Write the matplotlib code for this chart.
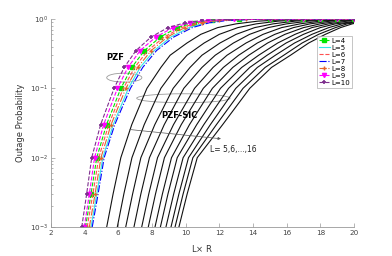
import numpy as np
import matplotlib
matplotlib.use('Agg')
import matplotlib.pyplot as plt
from matplotlib.patches import Ellipse

# PZF-SIC curves, L = 5..16 : x position where each probability level is reached
sic_levels = [1e-3, 3e-3, 1e-2, 3e-2, 1e-1, 0.2, 0.3, 0.45, 0.6, 0.75, 0.85, 0.93, 0.97, 0.99]
sic_x = [
    [5.31, 5.94, 6.44, 6.93, 7.39, 7.78, 8.18, 8.50, 8.83, 9.13, 9.37, 9.60],
    [5.69, 6.33, 6.85, 7.34, 7.81, 8.21, 8.62, 8.95, 9.29, 9.60, 9.85, 10.09],
    [6.15, 6.81, 7.34, 7.85, 8.33, 8.74, 9.16, 9.50, 9.85, 10.17, 10.43, 10.69],
    [6.80, 7.54, 8.17, 8.73, 9.28, 9.74, 10.23, 10.66, 11.08, 11.47, 11.83, 12.20],
    [7.70, 8.53, 9.26, 9.89, 10.53, 11.05, 11.59, 12.07, 12.55, 12.98, 13.41, 13.81],
    [8.53, 9.44, 10.26, 10.97, 11.63, 12.24, 12.80, 13.33, 13.81, 14.26, 14.72, 15.10],
    [9.08, 10.08, 10.97, 11.76, 12.46, 13.15, 13.75, 14.34, 14.84, 15.33, 15.83, 16.23],
    [10.08, 11.10, 12.04, 12.84, 13.59, 14.26, 14.87, 15.47, 15.97, 16.47, 16.92, 17.31],
    [10.9, 12.0, 13.0, 13.8, 14.6, 15.3, 15.9, 16.5, 17.0, 17.5, 17.9, 18.3],
    [11.9, 13.1, 14.1, 14.9, 15.7, 16.4, 17.0, 17.5, 18.0, 18.5, 18.9, 19.2],
    [13.0, 14.2, 15.2, 16.0, 16.8, 17.4, 18.0, 18.5, 18.9, 19.3, 19.6, 19.9],
    [14.3, 15.5, 16.5, 17.3, 18.0, 18.6, 19.1, 19.6, np.nan, np.nan, np.nan, np.nan],
    [15.8, 16.9, 17.8, 18.6, 19.2, 19.7, np.nan, np.nan, np.nan, np.nan, np.nan, np.nan],
    [18.0, 19.0, np.nan, np.nan, np.nan, np.nan, np.nan, np.nan, np.nan, np.nan, np.nan, np.nan],
]
sic_end = [0.998, 0.995, 0.99, 0.985, 0.978, 0.973, 0.955, 0.94, 0.915, 0.90, 0.88, 0.86]

# PZF curves
pzf_levels = [1e-3, 3e-3, 1e-2, 3e-2, 1e-1, 0.2, 0.35, 0.55, 0.75, 0.88, 0.95, 0.985]
pzf_L = [4, 5, 6, 7, 8, 9, 10]
pzf_x = {
    4: [4.05, 4.38, 4.72, 5.30, 6.15, 6.80, 7.55, 8.50, 9.50, 10.50, 11.55, 13.15],
    5: [4.38, 4.72, 5.08, 5.70, 6.60, 7.30, 8.13, 9.13, 10.20, 11.20, 12.25, 13.85],
    6: [4.15, 4.49, 4.84, 5.43, 6.30, 6.97, 7.75, 8.73, 9.75, 10.75, 11.8, 13.4],
    7: [4.45, 4.80, 5.16, 5.79, 6.72, 7.45, 8.27, 9.30, 10.40, 11.40, 12.45, 14.05],
    8: [4.28, 4.62, 4.97, 5.57, 6.45, 7.15, 7.95, 8.92, 9.95, 10.95, 12.0, 13.6],
    9: [3.98, 4.28, 4.59, 5.13, 5.95, 6.57, 7.30, 8.23, 9.25, 10.25, 11.3, 12.9],
    10: [3.83, 4.12, 4.42, 4.95, 5.75, 6.35, 7.05, 7.95, 8.95, 9.95, 11.0, 12.6],
}
pzf_tail_x = [15, 16, 17, 18, 19, 20]
pzf_tail_p = [0.995, 0.997, 0.998, 0.999, 1.0, 1.0]

styles = {
    4: dict(color='#00e600', ls='--', marker='s', ms=2.5),
    5: dict(color='#33e6e6', ls='-', marker=None),
    6: dict(color='#ff5050', ls='--', marker=None),
    7: dict(color='#0000ff', ls='-.', marker=None),
    8: dict(color='#e6642d', ls='-.', marker='+', ms=3.5),
    9: dict(color='#ff00ff', ls='--', marker='v', ms=3),
    10: dict(color='#7e2f8e', ls='--', marker='+', ms=3.5, mew=1.2),
}

fig = plt.figure(figsize=(3.92, 2.56), dpi=100)
ax = fig.add_axes([0.130, 0.113, 0.773, 0.813])

sic_x = np.array(sic_x)
for k in range(sic_x.shape[1]):
    col = sic_x[:, k]
    ok = ~np.isnan(col)
    xs = list(col[ok]) + [20]
    ps = list(np.array(sic_levels)[ok]) + [sic_end[k]]
    ax.plot(xs, ps, color='#111111', lw=0.8)

for L in pzf_L:
    xs = pzf_x[L] + pzf_tail_x
    ps = pzf_levels + pzf_tail_p
    ax.plot(xs, ps, lw=0.8, label=f'L={L}', **styles[L])

ax.set_yscale('log')
ax.set_xlim(2, 20)
ax.set_ylim(1e-3, 1)
ax.set_xticks(range(2, 21, 2))

for s in ['top', 'right']:
    ax.spines[s].set_visible(False)
for s in ['left', 'bottom']:
    ax.spines[s].set_color('#999999')
    ax.spines[s].set_linewidth(0.6)
ax.tick_params(which='both', direction='in', colors='#999999', labelcolor='#444444',
               labelsize=5.2, width=0.5, pad=2)
ax.tick_params(which='major', length=3)
ax.tick_params(which='minor', length=1.5)
ax.tick_params(axis='x', which='minor', bottom=False)

ax.set_xlabel('L$\\times$ R', fontsize=6, color='#333333')
ax.set_ylabel('Outage Probability', fontsize=6, color='#333333')
ax.yaxis.set_label_coords(-0.085, 0.5)
ax.xaxis.set_label_coords(0.5, -0.075)

# annotations
ax.text(0.212, 0.813, 'PZF', transform=ax.transAxes, fontsize=6, fontweight='bold',
        ha='center', va='center')
ax.add_patch(Ellipse((0.242, 0.718), 0.116, 0.043, transform=ax.transAxes,
                     fill=False, ec='#999999', lw=0.6))
ax.text(0.424, 0.538, 'PZF-SIC', transform=ax.transAxes, fontsize=6, fontweight='bold',
        ha='center', va='center')
ax.add_patch(Ellipse((0.437, 0.619), 0.308, 0.043, transform=ax.transAxes,
                     fill=False, ec='#999999', lw=0.6))
ax.annotate('', xy=(0.570, 0.423), xytext=(0.251, 0.470), xycoords='axes fraction',
            arrowprops=dict(arrowstyle='-|>', color='#555555', lw=0.5, mutation_scale=4))
ax.text(0.526, 0.373, 'L= 5,6,...,16', transform=ax.transAxes, fontsize=5.5,
        ha='left', va='center', color='#222222')

leg = ax.legend(loc='upper right', bbox_to_anchor=(0.995, 0.92), fontsize=5,
                frameon=True, fancybox=False, handlelength=1.5, handletextpad=0.3,
                borderpad=0.3, labelspacing=0.15, borderaxespad=0)
leg.get_frame().set_edgecolor('#aaaaaa')
leg.get_frame().set_linewidth(0.6)

fig.savefig('out.png', dpi=100)
